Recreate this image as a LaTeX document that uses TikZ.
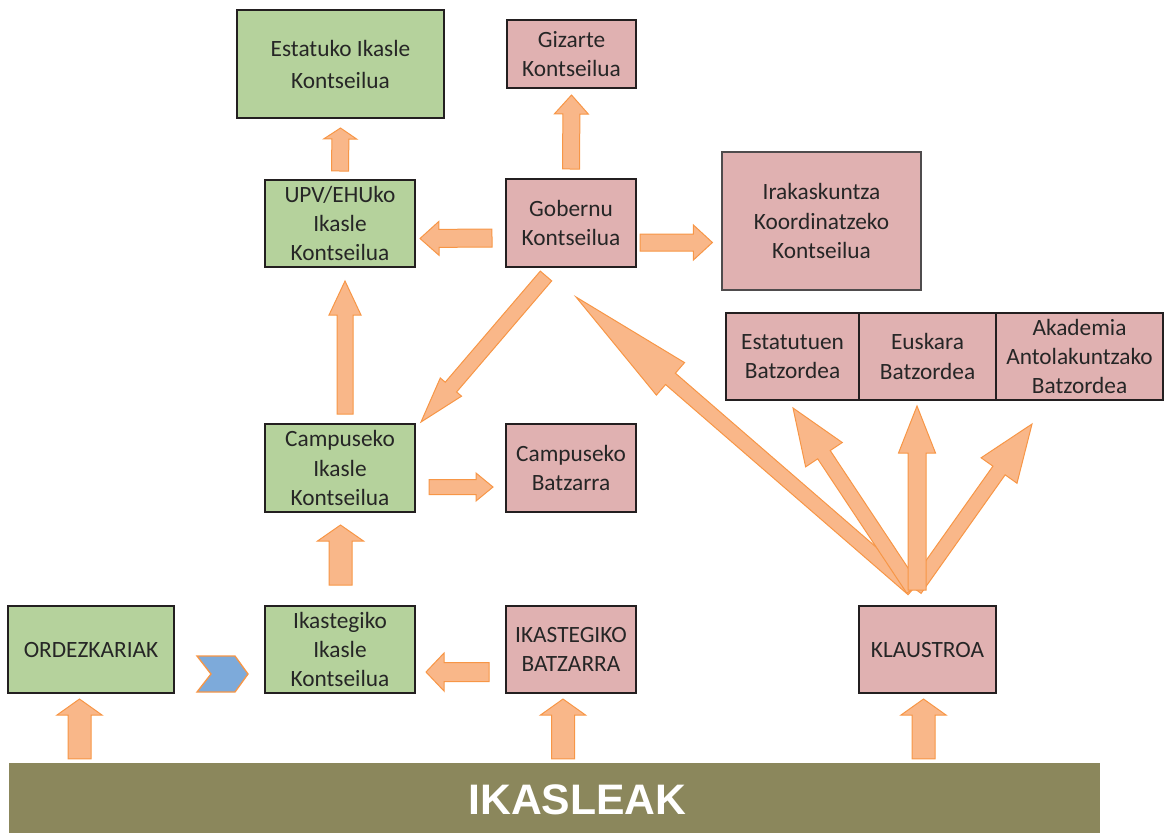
\documentclass[tikz,border=0pt]{standalone}
\usepackage{fontspec}
\setmainfont{Carlito}
\newfontfamily\barfont{Liberation Sans}
\usetikzlibrary{calc}

\definecolor{boxgreen}{HTML}{B5D29C}
\definecolor{boxpink}{HTML}{E0B1B1}
\definecolor{boxline}{HTML}{231F20}
\definecolor{txtgrey}{HTML}{262626}
\definecolor{arrfill}{HTML}{F9B789}
\definecolor{arrline}{HTML}{F79646}
\definecolor{chevblue}{HTML}{7DAADA}
\definecolor{barolive}{HTML}{8B875C}

\tikzset{
	box/.style={draw=boxline, line width=1.5pt, align=center, text=txtgrey,
		font=\fontsize{17.5}{22}\selectfont, inner sep=0pt},
	gbox/.style={box, fill=boxgreen},
	pbox/.style={box, fill=boxpink},
	fatarrow/.style={fill=arrfill, draw=arrline, line width=0.75pt, line join=miter}
}

% block arrow: tail, tip, shaft width, head width, head length (px)
\newcommand\blockarrow[5]{%
	\filldraw[fatarrow] let \p1=(#1), \p2=(#2),
		\n1={atan2(\y2-\y1,\x2-\x1)}, \n2={veclen(\x2-\x1,\y2-\y1)} in
		[shift={(\p1)}, rotate=\n1]
		(0pt,{#3*0.375pt}) -- ({\n2*1pt-#5*0.75pt},{#3*0.375pt})
		-- ({\n2*1pt-#5*0.75pt},{#4*0.375pt}) -- ({\n2*1pt},0pt)
		-- ({\n2*1pt-#5*0.75pt},{-#4*0.375pt}) -- ({\n2*1pt-#5*0.75pt},{-#3*0.375pt})
		-- (0pt,{-#3*0.375pt}) -- cycle;
}

\begin{document}
\begin{tikzpicture}[x=0.75pt, y=-0.75pt]
	\useasboundingbox (0,0) rectangle (1169,833);

	% boxes
	\node[gbox, minimum width=155.25pt, minimum height=81pt,
		font=\fontsize{17.5}{24}\selectfont] (est) at (340.5,64) {Estatuko Ikasle\\Kontseilua};
	\node[pbox, minimum width=96.75pt, minimum height=51pt] (giz) at (571.5,54) {Gizarte\\Kontseilua};
	\node[gbox, minimum width=112.5pt, minimum height=65.25pt] (upv) at (340,223.5) {UPV/EHUko\\Ikasle\\Kontseilua};
	\node[pbox, minimum width=97.5pt, minimum height=66pt] (gob) at (571,223) {Gobernu\\Kontseilua};
	\node[pbox, draw=boxline!80, line width=0.9pt, minimum width=149.25pt, minimum height=103.5pt]
		(ira) at (821.5,221) {Irakaskuntza\\Koordinatzeko\\Kontseilua};
	\node[pbox, minimum width=99.75pt, minimum height=65.25pt] (estat) at (792.5,356.5) {Estatutuen\\Batzordea};
	\node[pbox, minimum width=102.75pt, minimum height=65.25pt] (eusk) at (927.5,356.5) {Euskara\\Batzordea};
	\node[pbox, minimum width=125.25pt, minimum height=65.25pt] (akad) at (1079.5,356.5) {Akademia\\Antolakuntzako\\Batzordea};
	\node[gbox, minimum width=112.5pt, minimum height=66pt] (campk) at (340,468) {Campuseko\\Ikasle\\Kontseilua};
	\node[pbox, minimum width=97.5pt, minimum height=66pt] (campb) at (571,468) {Campuseko\\Batzarra};
	\node[gbox, minimum width=124.5pt, minimum height=65.25pt] (ord) at (91,649.5) {ORDEZKARIAK};
	\node[gbox, minimum width=112.5pt, minimum height=65.25pt] (ikk) at (340,649.5) {Ikastegiko\\Ikasle\\Kontseilua};
	\node[pbox, minimum width=97.5pt, minimum height=65.25pt] (ikb) at (571,649.5) {IKASTEGIKO\\BATZARRA};
	\node[pbox, minimum width=102.75pt, minimum height=65.25pt] (klau) at (927.5,649.5) {KLAUSTROA};

	\node[fill=barolive, minimum width=818.25pt, minimum height=52.5pt, inner sep=0pt] (bar) at (554.5,798) {};
	\node[text=white, font=\barfont\bfseries\fontsize{32}{36}\selectfont] (barlabel)
		at ($(bar.center)+(23,2)$) {IKASLEAK};

	% arrows
	\blockarrow{$(upv.north)+(0,-8)$}{$(est.south)+(0,9)$}{17}{33}{11}
	\blockarrow{$(gob.north)+(0,-9)$}{$(giz.south)+(0,6)$}{17}{34}{19}
	\blockarrow{$(gob.west)+(-13,15)$}{$(upv.east)+(4,15)$}{18}{34}{19}
	\blockarrow{$(gob.east)+(3,19.5)$}{$(ira.west)+(-9,21.5)$}{17}{35}{19}
	\blockarrow{$(gob.south)+(-25,8)$}{$(campk.north east)+(5,-1)$}{15}{28}{46}
	\blockarrow{$(campk.north)+(5,-9)$}{$(upv.south)+(5,13)$}{16}{32}{34}
	\blockarrow{$(campk.east)+(13,19)$}{$(campb.west)+(-12,19)$}{15}{28}{17}
	\blockarrow{$(ikk.north)+(0.5,-20)$}{$(campk.south)+(0.5,12)$}{23}{46}{16}
	\blockarrow{$(ikb.west)+(-16,22.5)$}{$(ikk.east)+(10,22.5)$}{19}{38}{18}

	\blockarrow{$(klau.north)+(-14.5,-16)$}{$(gob.south)+(5,29)$}{15}{43}{125}
	\blockarrow{$(klau.north)+(-14.5,-16)$}{$(estat.south)+(0.5,7)$}{15}{44}{56}
	\blockarrow{$(klau.north)+(-12.5,-16)$}{$(akad.south)+(-47.5,23)$}{15}{44}{57}
	\blockarrow{$(klau.north)+(-10.5,-15)$}{$(eusk.south)+(-10.5,5)$}{18}{37}{47}

	\blockarrow{$(bar.north -| ord.south)+(-11.5,-4)$}{$(ord.south)+(-11.5,5)$}{23}{45}{16}
	\blockarrow{$(bar.north -| ikb.south)+(-8,-4)$}{$(ikb.south)+(-8,5)$}{23}{45}{16}
	\blockarrow{$(bar.north -| klau.south)+(-4,-4)$}{$(klau.south)+(-4,5)$}{23}{45}{16}

	% chevron
	\filldraw[fill=chevblue, draw=arrline, line width=1pt]
		(197,656) -- (235,656) -- (248,674) -- (235,692) -- (197,692) -- (211,674) -- cycle;
\end{tikzpicture}
\end{document}
